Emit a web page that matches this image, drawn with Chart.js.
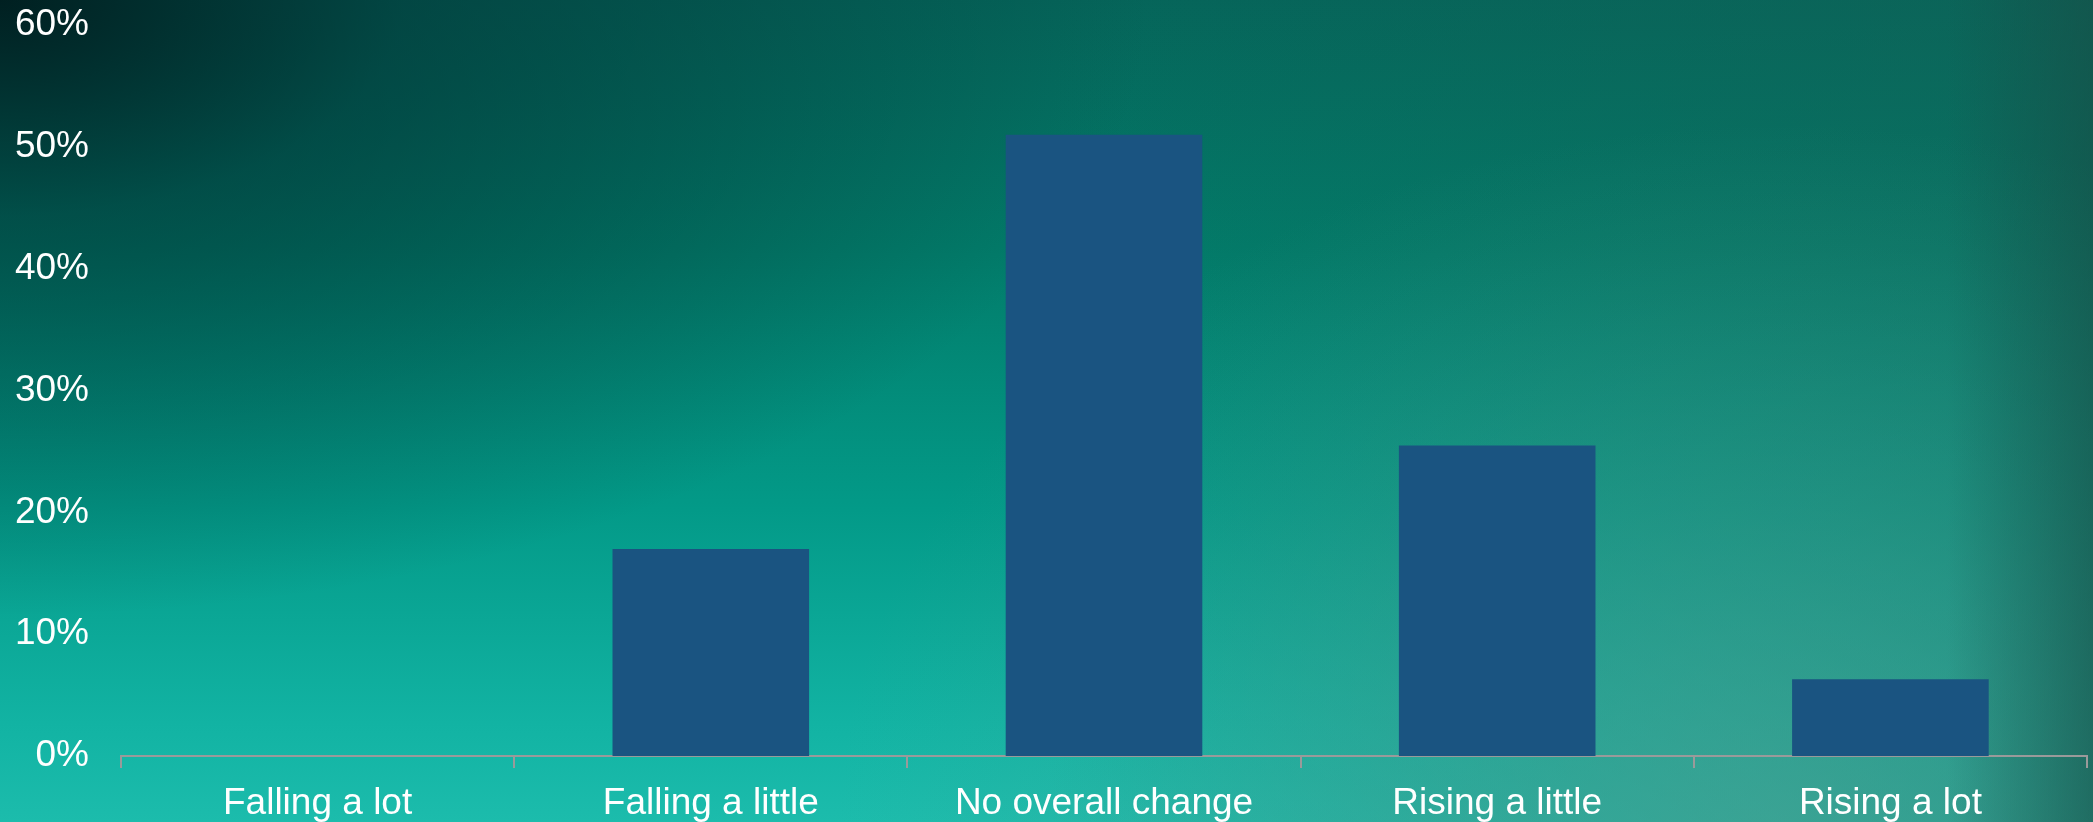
<!DOCTYPE html>
<html>
<head>
<meta charset="utf-8">
<script src="https://cdn.jsdelivr.net/npm/chart.js@4/dist/chart.umd.min.js"></script>
<style>
	html, body {
		margin: 0;
		padding: 0;
		overflow: hidden;
	}
	body {
		width: 2093px;
		height: 822px;
		background:
			linear-gradient(to left, rgba(22, 78, 70, 0.6) 0%, rgba(22, 78, 70, 0) 7%),
			radial-gradient(ellipse 55% 75% at 0% 0%, rgba(0, 28, 30, 0.95) 0%, rgba(0, 45, 48, 0.55) 35%, rgba(0, 60, 60, 0) 100%),
			radial-gradient(ellipse 45% 85% at 85% 100%, rgba(80, 165, 150, 0.6) 0%, rgba(80, 165, 150, 0) 100%),
			linear-gradient(to right, rgba(20, 100, 88, 0) 50%, rgba(20, 100, 88, 0.45) 100%),
			linear-gradient(to bottom, #05655a 0%, #027b69 30%, #039a88 62%, #12b3a3 88%, #1cbcac 100%);
	}
	#wrap {
		width: 2093px;
		height: 822px;
	}
</style>
</head>
<body>
<div id="wrap"><canvas id="barChart"></canvas></div>
<script>
// số liệu
const categories = ['Falling a lot', 'Falling a little', 'No overall change', 'Rising a little', 'Rising a lot'];
const shares = [0, 17.0, 51.0, 25.5, 6.3];
const yMax = 60;
const yStep = 10;

Chart.defaults.font.family = '"Liberation Sans", Arial, sans-serif';
Chart.defaults.color = '#ffffff';

const ctx = document.getElementById('barChart').getContext('2d');
new Chart(ctx, {
	type: 'bar',
	data: {
		labels: categories,
		datasets: [{
			label: 'Share',
			data: shares,
			backgroundColor: '#1a5481',
			borderWidth: 0,
			barPercentage: 0.5,
			categoryPercentage: 1.0
		}]
	},
	options: {
		responsive: true,
		maintainAspectRatio: false,
		animation: false,
		layout: {
			padding: { left: 10, right: 6, top: 0, bottom: 0 }
		},
		plugins: {
			legend: { display: false },
			tooltip: { enabled: false }
		},
		scales: {
			x: {
				afterFit: scale => { scale.height = 66; },
				grid: {
					offset: true,
					drawOnChartArea: false,
					drawTicks: true,
					tickLength: 12,
					color: '#9a9a9a',
					lineWidth: 2
				},
				border: {
					display: true,
					color: '#9a9a9a',
					width: 2
				},
				ticks: {
					color: '#ffffff',
					padding: 14,
					font: { size: 37 },
					maxRotation: 0
				}
			},
			y: {
				min: 0,
				max: yMax,
				afterFit: scale => { scale.width = 111; },
				// lưới ẩn, chỉ dùng tickLength để đẩy nhãn cách trục
				grid: { display: false, drawTicks: true, tickLength: 29 },
				border: { display: false },
				ticks: {
					stepSize: yStep,
					color: '#ffffff',
					padding: 3,
					font: { size: 37 },
					callback: v => v + '%'
				}
			}
		}
	}
});
</script>
</body>
</html>
